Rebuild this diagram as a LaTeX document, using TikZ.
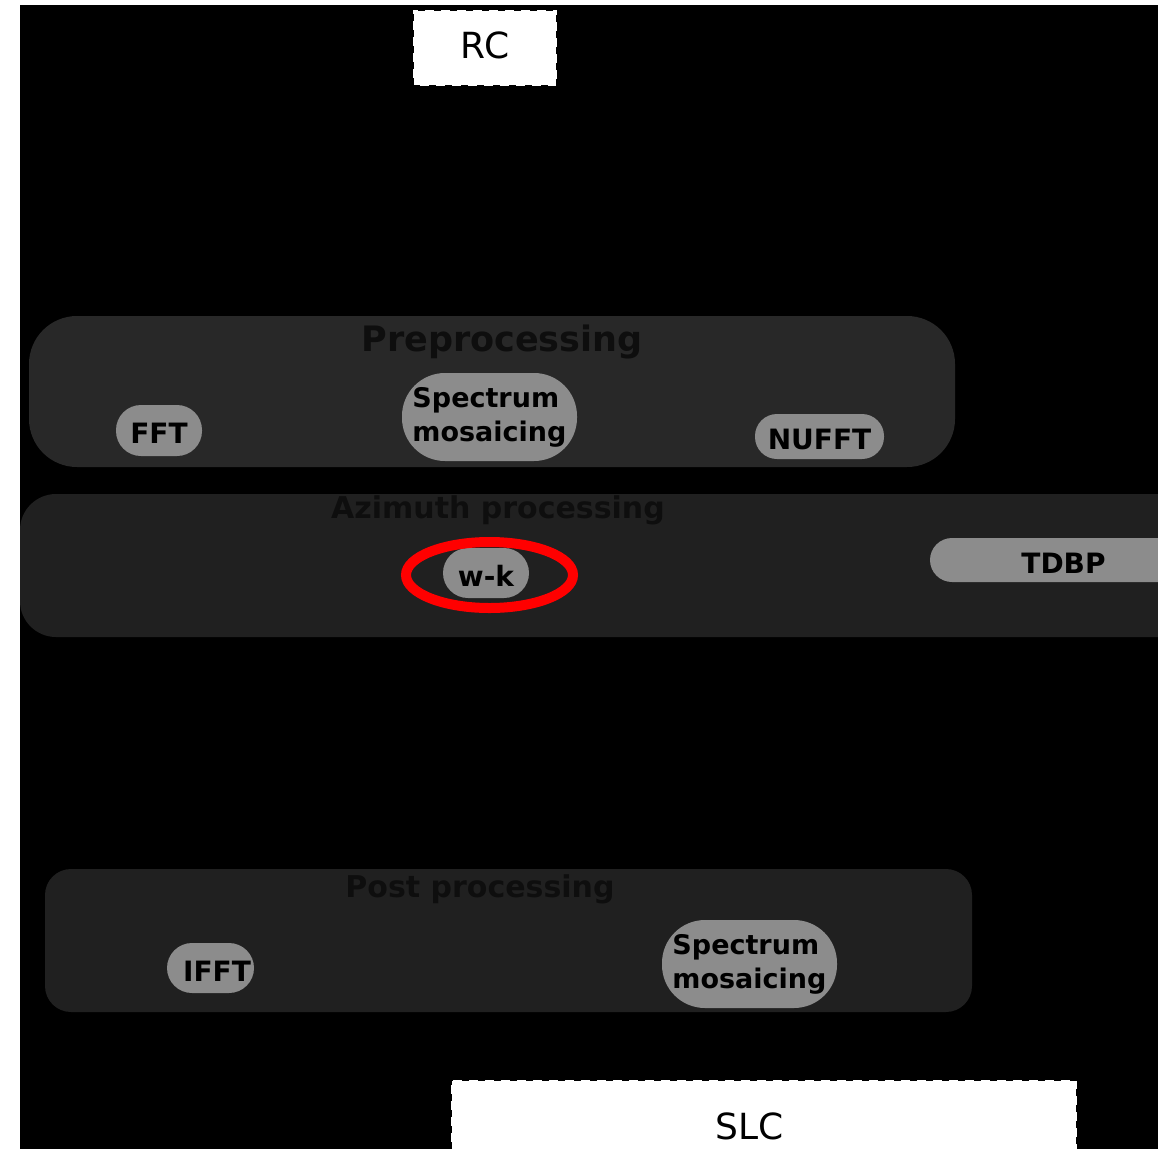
\documentclass[tikz,border=0pt]{standalone}
\usepackage{fontspec}
\setmainfont{DejaVu Sans}
\usetikzlibrary{shapes.geometric}
\definecolor{panelA}{HTML}{282828}
\definecolor{panelB}{HTML}{202020}
\definecolor{pillgray}{HTML}{8C8C8C}
\definecolor{titlecol}{HTML}{0E0E0E}
\tikzset{
  panel/.style={rectangle, draw=none, inner sep=0pt},
  pill/.style={rectangle, fill=pillgray, draw=none, inner sep=0pt,
    font=\fontsize{28}{34}\selectfont\bfseries, text=black,
    text height=26pt, text depth=0pt},
  pill2/.style={rectangle, fill=pillgray, draw=none, inner sep=0pt, text=black,
    rounded corners=43pt, minimum width=175pt, minimum height=88pt,
    font=\fontsize{27}{34}\selectfont\bfseries, align=left},
  ptitle/.style={font=\fontsize{30}{34}\selectfont\bfseries, text=titlecol, inner sep=0pt},
  endbox/.style={rectangle, fill=white, draw=black, line width=2.5pt,
    dash pattern=on 7pt off 9pt, inner sep=0pt, font=\fontsize{36}{40}\selectfont, text=black},
  redring/.style={ellipse, draw=red, line width=10pt, inner sep=0pt}
}
\begin{document}
\begin{tikzpicture}[x=1pt,y=-1pt]
\useasboundingbox (0,0) rectangle (1158,1149);
\clip (0,0) rectangle (1158,1149);
\fill[white] (0,0) rectangle (1158,1149);
\fill[black] (20,5) rectangle (1158,1149);
% panels
\node[panel, fill=panelA, rounded corners=48pt, minimum width=926pt, minimum height=151pt] (pre) at (492,391.5) {};
\node[panel, fill=panelB, rounded corners=36pt, minimum width=1180pt, minimum height=143pt] (azi) at (610,565.5) {};
\node[panel, fill=panelB, rounded corners=26pt, minimum width=927pt, minimum height=143pt] (post) at (508.5,940.5) {};
% titles
\node[ptitle, font=\fontsize{35}{38}\selectfont\bfseries] (pretitle) at (502,342) {Preprocessing};
\node[ptitle] (azititle) at (498,510) {Azimuth processing};
\node[ptitle] (posttitle) at (480,889) {Post processing};
% pills
\node[pill, rounded corners=25pt, minimum width=86pt, minimum height=51pt] (fft) at (159,430.5) {FFT};
\node[pill2] (specpre) at (489.5,417) {Spectrum\\mosaicing};
\node[pill, rounded corners=22pt, minimum width=129pt, minimum height=45pt] (nufft) at (819.5,436.5) {NUFFT};
\node[pill, rounded corners=25pt, minimum width=86pt, minimum height=50pt] (wk) at (486,573) {w-k};
\node[pill, rounded corners=22pt, minimum width=270pt, minimum height=44pt] (tdbp) at (1065,560) {\hspace*{-3pt}TDBP};
\node[pill, rounded corners=25pt, minimum width=87pt, minimum height=50pt] (ifft) at (210.5,968) {\hspace*{13pt}IFFT};
\node[pill2] (specpost) at (749.5,964) {Spectrum\\mosaicing};
% red ring
\node[redring, minimum width=167pt, minimum height=66pt] (wkring) at (489.5,575) {};
% end boxes
\node[endbox, minimum width=144pt, minimum height=76pt, text height=20pt, text depth=0pt] (rc) at (485,48) {RC};
\node[endbox, minimum width=626pt, minimum height=110pt] (slc) at (764,1135) {};
\node[font=\fontsize{36}{40}\selectfont, inner sep=0pt] (slctext) at (750,1126) {SLC};
\end{tikzpicture}
\end{document}
